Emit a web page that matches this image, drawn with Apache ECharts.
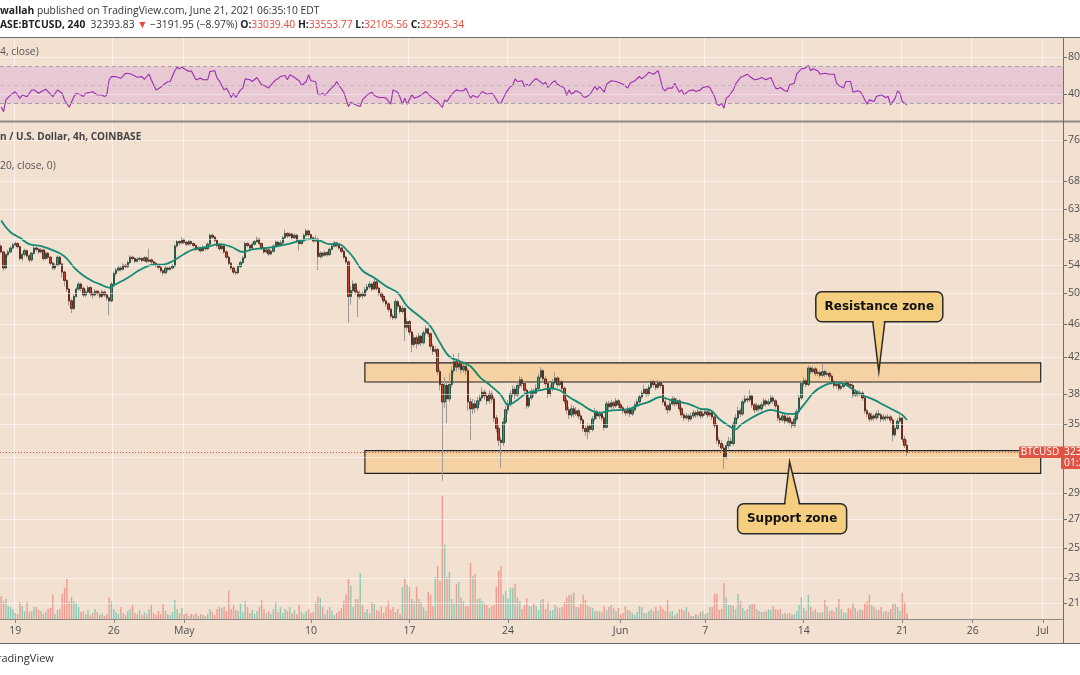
<!DOCTYPE html>
<html><head><meta charset="utf-8">
<script src="https://cdn.jsdelivr.net/npm/echarts/dist/echarts.min.js"></script>
<style>html,body{margin:0;padding:0;background:#fff;}#c{width:1080px;height:675px;}</style>
</head><body><div id="c"></div>
<script>
// ---------- data (prices in thousands of USD, 4h candles from 2021-04-18 00:00 UTC) ----------
const startTime = Date.UTC(2021, 3, 18, 0, 0);
const categoryCount = 453;
const firstOpen = 56.9;
const closes = [
56.0,53.6,55.6,56.0,56.6,57.1, 57.3,56.8,55.0,55.6,56.2,55.4, 54.8,55.8,56.6,56.4,56.0,56.3,
55.0,55.8,55.2,54.3,53.6,54.0, 55.2,54.2,53.0,51.8,50.6,49.0, 48.0,49.6,50.6,51.3,50.7,49.8,
50.2,50.8,50.0,49.8,50.3,50.0, 49.6,50.2,49.8,49.4,49.0,51.3, 52.8,53.3,53.6,53.4,54.0,53.8,
54.4,55.2,55.0,54.6,54.9,55.0, 54.7,55.1,54.6,54.8,54.5,54.3, 54.0,53.7,53.2,52.9,53.6,53.4,
53.6,53.9,56.9,57.6,57.4,57.9, 57.5,57.2,57.6,57.3,57.0,56.4, 56.6,56.2,56.7,56.5,57.2,58.6,
58.3,57.8,57.0,56.5,56.9,56.0, 55.2,54.3,53.6,53.0,52.9,53.8, 54.4,55.1,57.3,57.0,56.6,57.2,
57.6,58.0,57.3,56.6,56.0,56.3, 55.7,56.1,56.9,57.5,57.1,57.4, 58.2,58.9,58.5,58.8,58.2,58.6,
57.8,57.3,57.7,58.6,59.3,58.7, 58.2,57.7,58.0,55.3,55.8,55.5, 55.9,55.6,56.4,56.9,57.4,57.0,
56.6,56.1,55.2,54.5,49.6,50.4, 51.3,50.2,49.6,50.0,49.7,50.5, 50.9,51.3,50.6,51.6,50.7,50.0,
49.6,49.0,48.6,47.9,47.0,46.8, 48.9,48.3,47.6,48.0,45.6,46.3, 45.0,43.5,44.3,43.6,44.5,43.7,
44.9,45.4,44.8,43.3,42.7,42.9, 40.4,39.0,37.2,38.9,37.5,39.0, 40.5,41.5,40.9,41.3,40.6,41.0,
40.5,37.2,36.5,37.0,36.6,37.3, 37.6,38.2,37.8,37.3,38.0,37.5, 35.6,34.6,33.5,33.3,35.2,36.4,
37.0,38.0,38.5,37.9,38.9,39.5, 39.1,38.4,36.8,37.6,38.3,38.1, 38.6,39.8,40.5,39.6,39.1,38.0,
38.6,39.2,39.7,39.0,39.3,38.6, 37.3,36.4,35.9,36.5,36.0,36.3, 35.8,35.4,34.6,34.3,34.8,34.5,
35.5,36.2,35.8,36.0,35.6,34.7, 37.0,36.7,37.1,36.8,37.3,36.9, 36.6,36.3,36.1,36.5,36.0,36.4,
36.9,37.2,37.7,38.1,38.5,38.0, 38.7,39.3,39.0,38.7,39.2,38.9, 37.2,36.8,36.4,37.0,37.5,37.0,
37.3,36.5,35.9,35.6,35.8,35.5, 35.8,36.1,35.9,36.2,35.8,36.0, 36.2,35.9,36.1,35.7,34.9,33.5,
33.2,32.8,32.0,33.0,33.4,33.2, 35.0,35.6,36.3,36.0,37.2,37.5, 37.4,37.8,36.9,36.4,36.8,36.5,
36.9,37.3,37.0,37.2,37.6,37.3, 36.8,35.6,35.4,35.8,35.3,35.6, 35.2,34.9,35.5,36.2,37.6,39.1,
39.4,39.0,40.8,40.4,40.7,40.2, 40.3,40.0,40.4,40.1,40.2,39.9, 39.3,38.9,39.0,38.6,38.8,39.1,
39.2,39.0,38.9,37.9,38.2,38.0, 38.1,37.6,36.3,36.0,35.5,35.8, 35.6,36.0,35.9,35.5,35.7,35.6,
35.7,35.4,34.0,34.6,35.3,35.59, 33.6,33.04,32.40];
const highs = [
57.2,56.2,55.8,56.3,56.9,57.4, 57.6,57.5,57.0,55.9,56.5,56.4, 55.6,56.0,56.9,56.8,56.6,56.6,
56.5,56.1,56.0,55.4,54.5,54.3, 55.5,55.4,54.4,53.2,52.0,50.8, 49.3,49.9,50.9,51.6,51.5,51.0,
50.6,51.1,51.0,50.3,50.6,50.5, 50.2,50.5,50.4,50.0,49.6,51.6, 53.1,53.6,54.0,53.9,54.3,54.2,
54.7,55.5,55.4,55.2,55.2,55.3, 55.2,55.4,55.3,56.5,55.0,54.7, 54.5,54.2,53.9,53.4,53.9,53.8,
53.9,54.2,57.2,57.9,57.8,58.3, 58.1,57.7,57.9,57.8,57.5,57.2, 56.9,56.8,57.0,56.9,57.5,58.9,
58.9,58.5,58.0,57.2,57.3,57.1, 56.2,55.4,54.5,53.8,53.3,54.1, 54.7,55.4,57.6,57.5,57.2,57.5,
57.9,58.4,58.2,57.5,56.8,56.6, 56.5,56.4,57.2,57.8,57.7,57.8, 58.5,59.5,59.1,59.1,59.0,58.9,
58.8,58.0,58.0,58.9,59.7,59.5, 58.9,58.4,58.6,58.2,56.1,56.0, 56.2,56.1,56.7,57.2,57.7,57.6,
57.2,56.8,56.3,55.4,54.7,51.0, 51.8,51.5,50.5,50.4,50.3,50.9, 51.3,51.7,51.5,52.2,51.8,50.9,
50.2,49.8,49.2,48.8,48.1,47.3, 49.3,49.1,48.5,48.4,48.2,46.7, 46.5,45.2,44.7,44.6,44.9,44.7,
45.2,45.8,45.6,45.0,43.6,43.3, 43.1,40.7,39.3,39.8,39.3,40.2, 41.0,42.4,41.9,42.5,41.6,41.5,
41.4,40.8,37.6,37.5,37.4,37.7, 38.0,38.7,38.5,38.1,38.4,38.3, 37.8,35.9,34.9,33.8,35.6,36.8,
37.4,38.4,38.9,38.8,39.3,39.9, 39.8,39.4,38.6,38.0,38.6,38.6, 39.0,40.2,40.9,40.7,39.9,39.3,
39.0,39.6,40.3,39.9,39.7,39.5, 38.8,37.6,36.7,36.9,36.8,36.7, 36.5,36.0,35.6,34.9,35.1,35.0,
35.8,36.6,36.4,36.3,36.2,35.8, 37.3,37.3,37.4,37.3,37.6,37.5, 37.1,36.8,36.5,36.8,36.7,36.7,
37.2,37.5,38.0,38.4,39.0,38.7, 39.0,39.5,39.5,39.2,39.5,39.4, 39.1,37.5,37.0,37.3,37.8,37.7,
37.6,37.5,36.7,36.1,36.1,36.0, 36.1,36.4,36.3,36.5,36.4,36.3, 36.5,36.4,36.4,36.3,35.9,35.1,
33.8,33.5,33.1,33.3,33.8,33.7, 35.3,36.0,36.7,36.6,37.5,37.9, 37.8,38.4,38.0,37.1,37.1,37.0,
37.2,37.6,37.5,37.5,37.9,37.8, 37.5,37.0,35.9,36.1,36.0,35.9, 35.8,35.4,35.8,36.5,37.9,39.4,
39.8,39.6,41.1,41.0,41.0,40.9, 40.6,40.5,41.3,40.6,40.5,40.4, 40.1,39.5,39.3,39.2,39.1,39.4,
39.5,39.4,39.2,39.1,38.5,38.4, 38.4,38.3,37.8,36.5,36.2,36.1, 36.0,36.3,36.4,36.1,36.0,35.9,
36.0,35.9,35.6,34.9,35.6,35.9, 35.7,33.9,33.55];
const lows = [
55.8,53.2,53.4,55.3,55.8,56.4, 56.8,56.5,54.7,54.6,55.3,55.1, 54.4,54.6,55.6,56.0,55.7,55.8,
54.7,54.8,54.9,54.0,53.3,53.3, 53.8,53.9,52.2,51.0,50.2,48.4, 47.4,47.8,49.4,50.4,50.3,49.5,
49.5,50.0,49.6,49.3,49.6,49.7, 49.3,49.4,49.5,49.0,47.1,48.8, 51.0,52.5,53.0,53.1,53.2,53.5,
53.6,54.2,54.7,54.3,54.4,54.6, 54.4,54.5,54.3,54.4,54.2,54.0, 53.7,53.4,52.9,52.5,52.7,53.1,
53.2,53.4,53.7,56.7,57.0,57.2, 57.2,56.9,57.0,57.0,56.7,56.1, 56.1,55.9,56.0,56.2,56.3,57.0,
58.0,57.5,56.7,56.2,56.3,55.7, 54.9,54.0,53.3,52.7,52.6,52.7, 53.6,54.2,54.9,56.7,56.3,56.4,
57.0,57.4,57.0,56.3,55.7,55.8, 55.4,55.5,55.9,56.7,56.8,56.9, 57.2,58.0,58.2,58.3,57.9,58.0,
57.5,56.2,57.1,57.5,58.4,58.4, 57.9,57.4,57.5,53.3,55.0,55.1, 55.3,55.3,55.4,56.2,56.7,56.7,
56.3,55.8,54.9,54.2,46.2,48.5, 50.0,49.8,46.9,49.2,49.3,49.5, 50.2,50.6,50.3,50.4,50.4,49.7,
49.2,48.7,48.2,47.5,46.7,46.5, 46.6,47.9,47.3,47.3,43.9,45.2, 44.6,42.6,43.2,43.0,43.4,43.3,
43.5,44.6,44.4,42.9,42.3,42.4, 40.0,38.4,30.0,36.6,35.1,37.2, 38.7,40.2,40.4,40.6,40.2,40.3,
40.0,36.3,33.5,36.0,36.1,36.3, 36.9,37.3,37.4,36.9,37.0,37.1, 35.2,34.2,33.0,31.1,33.0,35.0,
36.0,36.7,37.7,37.5,37.7,38.6, 38.7,38.0,36.5,36.6,37.4,37.7, 37.9,38.4,39.6,39.2,38.7,37.6,
37.7,38.3,39.0,38.7,38.8,38.3, 37.0,36.0,35.5,35.6,35.7,35.8, 35.5,35.0,34.3,33.9,33.6,34.1,
34.3,35.3,35.5,35.5,35.3,34.4, 34.6,36.4,36.5,36.5,36.6,36.6, 36.3,36.0,35.8,35.9,35.7,35.8,
36.2,36.7,37.0,37.5,37.9,37.7, 37.8,38.5,38.7,38.4,38.5,38.6, 36.9,36.4,36.0,36.2,36.8,36.7,
36.8,36.2,35.6,35.3,35.4,35.2, 35.3,35.6,35.6,35.7,35.5,35.6, 35.8,35.6,35.7,35.4,34.6,33.2,
32.9,32.4,31.0,31.8,32.7,32.9, 33.0,34.7,35.4,35.7,35.8,37.0, 37.1,37.2,36.6,36.1,36.2,36.2,
36.3,36.7,36.7,36.8,37.0,37.0, 36.5,35.3,35.1,35.2,35.0,35.1, 34.9,34.6,34.7,35.3,36.0,37.4,
38.8,38.7,38.8,40.1,40.2,39.9, 39.9,39.7,39.8,39.8,39.9,39.5, 39.0,38.6,38.6,38.3,38.4,38.6,
38.9,38.7,38.6,37.6,37.7,37.7, 37.8,37.3,36.0,35.7,35.2,35.3, 35.3,35.4,35.6,35.2,35.3,35.3,
35.4,35.1,33.4,33.8,34.4,35.1, 33.3,32.8,32.11];
// volume, thousand BTC per 4h candle
const volumes = [
6.9,5.4,6.0,3.9,3.6,3.0, 1.8,1.5,5.1,3.9,2.4,5.1, 2.1,2.4,3.6,3.6,2.7,2.4, 1.5,2.1,3.0,3.3,7.3,1.5,
2.7,3.0,7.6,9.4,12.1,5.4, 6.6,5.4,4.8,3.6,2.1,2.4, 1.5,2.7,1.2,1.8,3.0,2.1, 1.2,1.8,0.9,1.5,6.6,5.4,
3.0,2.1,1.5,3.6,1.8,1.2, 2.4,3.0,4.2,1.8,1.5,2.7, 1.2,2.1,1.5,3.0,4.2,1.8, 1.2,2.4,1.5,4.5,2.4,1.5,
1.2,2.1,5.7,3.0,1.8,3.3, 1.5,1.8,0.9,1.5,1.2,1.8, 0.9,1.5,1.2,0.9,1.5,3.0, 2.1,1.2,3.0,3.6,3.3,3.6,
2.4,8.5,3.0,4.2,2.7,2.4, 4.5,2.1,5.4,3.6,1.8,2.7, 1.5,2.4,3.6,5.7,3.0,1.8, 2.4,1.5,3.0,5.1,2.1,3.6,
1.8,3.0,2.4,3.6,1.8,2.7, 1.5,4.2,2.1,1.5,2.4,3.0, 1.8,2.1,5.1,6.9,6.3,3.6, 1.5,2.7,3.6,2.4,1.2,1.8,
2.4,3.3,5.4,7.3,12.1,10.0, 3.6,6.0,6.0,13.9,4.2,2.1, 3.0,1.8,5.1,4.5,2.7,2.4, 3.9,1.8,3.6,5.4,2.7,3.6,
2.1,3.0,1.5,9.7,12.1,10.3, 9.7,6.0,5.4,9.7,6.0,5.1, 3.6,2.4,8.2,7.3,3.9,12.7, 16.0,11.5,37.2,22.4,12.7,14.2,
6.0,4.8,10.6,11.2,6.6,5.4, 3.9,3.9,16.9,13.0,13.6,6.0, 6.3,5.4,4.8,4.2,3.3,3.9, 4.2,9.7,14.5,16.0,7.3,8.5,
6.3,9.4,9.4,10.6,6.6,5.4, 3.0,4.2,6.3,3.9,3.9,4.8, 3.9,2.7,5.7,6.0,3.0,5.1, 2.4,2.7,4.2,3.6,3.3,3.6,
5.1,6.6,7.3,7.3,7.9,3.6, 3.6,4.5,7.3,5.7,3.9,3.6, 3.3,2.4,2.4,2.4,2.1,3.9, 2.7,3.6,4.2,3.3,2.4,3.3,
1.5,1.8,3.9,2.7,2.4,1.8, 1.2,2.1,3.9,3.6,1.8,1.8, 2.4,3.0,2.4,3.6,2.4,3.9, 3.0,2.4,5.7,2.1,2.4,1.2,
1.8,3.0,3.0,2.4,3.6,2.1, 0.9,0.9,1.5,1.2,2.1,2.4, 1.5,1.8,3.6,3.6,7.6,7.6, 2.7,3.0,10.9,6.6,4.2,4.2,
3.9,3.0,7.6,5.4,3.3,2.4, 3.0,4.2,4.5,4.5,3.0,2.4, 2.1,2.1,2.4,3.0,2.7,3.9, 3.0,2.7,3.0,1.5,1.8,1.5,
1.8,1.2,1.5,2.4,4.2,6.6, 3.3,2.4,7.3,3.6,2.4,3.0, 2.1,1.8,2.1,5.7,3.9,2.4, 2.7,2.1,3.6,6.0,3.0,2.1,
1.8,3.3,3.0,4.8,3.3,2.4, 3.0,2.7,4.8,5.4,7.3,4.2, 3.6,2.7,2.7,3.6,2.1,2.4, 2.1,3.0,4.5,4.8,3.6,2.4,
7.9,5.1,1.8];
// moving average (20, close): [candle index, price k$]
const maPoints = [[0,61.0],[2,59.9],[4,59.1],[6,58.6],[8,58.2],[12,57.2],[17,56.9],[21,56.4],[25,55.8],[28,55.0],
[31,53.7],[35,52.5],[39,51.7],[42,51.3],[46,50.8],[49,51.3],[54,52.2],[59,53.3],[65,54.1],[69,54.1],[73,54.6],
[78,55.7],[82,56.4],[88,56.8],[93,57.2],[98,56.8],[103,56.0],[107,56.4],[115,56.7],[122,57.2],[127,57.7],
[132,58.0],[136,57.7],[140,57.2],[144,57.2],[147,56.4],[150,55.2],[154,53.2],[159,52.2],[164,51.0],[169,50.1],
[173,48.3],[179,46.8],[183,45.7],[187,43.7],[191,42.1],[196,41.5],[200,41.0],[204,39.8],[208,39.0],[213,37.9],
[216,36.9],[220,37.4],[224,38.1],[230,38.4],[234,38.6],[238,38.4],[242,37.7],[247,37.0],[251,36.4],[255,36.1],
[259,36.3],[264,36.4],[268,36.5],[272,36.9],[276,37.2],[281,37.7],[285,37.4],[289,37.2],[294,36.9],[298,36.5],
[302,36.4],[306,35.5],[311,34.7],[313,34.5],[315,34.9],[319,35.5],[323,36.0],[328,36.4],[330,36.3],[335,36.0],
[338,36.0],[342,36.9],[346,38.1],[350,38.8],[355,39.2],[359,39.1],[363,38.5],[367,37.9],[372,37.4],[376,36.9],
[380,36.4],[384,35.9],[386,35.4]];
// RSI (14, close): [candle index, value]
const rsiPoints = [[0,26.2],[1,20.7],[2,33.5],[4,38.9],[6,42.5],[8,35.3],[9,38.9],[11,37.1],[13,44.4],[14,44.4],[16,40.8],
[17,42.5],[19,45.2],[20,42.5],[22,37.1],[24,44.4],[26,40.8],[27,33.5],[29,25.5],[31,37.1],[32,40.8],[34,38.9],[35,37.1],
[36,40.8],[39,42.5],[41,38.9],[43,38.9],[44,37.1],[45,38.9],[46,55.3],[47,58.9],[49,58.9],[51,57.1],[53,62.6],[55,62.0],
[57,59.7],[58,58.2],[60,58.9],[61,56.0],[63,61.8],[64,55.3],[66,44.4],[68,47.3],[69,49.8],[71,53.4],[72,53.6],[74,65.3],
[75,69.2],[76,67.5],[77,69.3],[78,67.5],[80,64.5],[81,65.3],[83,55.5],[85,57.3],[86,55.5],[88,55.5],[89,64.5],[91,65.3],
[92,57.3],[93,54.4],[95,44.5],[96,46.4],[97,42.0],[98,36.2],[99,40.9],[100,36.2],[102,44.5],[103,46.4],[104,56.5],
[106,55.5],[107,53.6],[109,58.0],[111,50.0],[112,49.3],[114,46.4],[115,50.0],[117,55.5],[118,56.5],[119,59.1],[121,60.2],
[122,55.5],[123,60.9],[125,58.0],[127,54.4],[128,49.3],[130,53.6],[131,60.9],[132,54.4],[134,53.6],[135,39.8],[136,39.1],
[137,40.9],[138,38.4],[140,44.5],[142,49.3],[143,53.6],[144,49.3],[146,42.0],[148,26.4],[149,31.1],[151,28.2],[153,26.4],
[154,33.6],[156,39.1],[158,42.0],[159,38.4],[161,36.2],[163,36.2],[164,35.5],[166,28.9],[167,44.5],[169,42.0],[170,36.2],
[171,28.9],[172,35.5],[173,28.9],[175,39.1],[176,35.5],[178,37.3],[180,40.9],[181,42.7],[183,37.3],[184,35.5],[186,31.8],
[188,25.3],[189,33.6],[190,31.8],[192,39.8],[194,44.5],[195,43.5],[197,43.5],[198,46.4],[200,35.5],[201,38.4],[203,36.2],
[205,42.7],[207,39.8],[209,40.9],[210,38.4],[212,30.0],[213,30.0],[215,40.9],[217,48.2],[218,49.3],[219,56.5],[220,53.6],
[222,54.4],[223,48.2],[224,50.7],[225,48.8],[227,55.0],[228,56.9],[230,53.0],[231,50.7],[232,52.9],[233,47.1],[235,52.9],
[236,54.4],[237,50.7],[238,49.3],[240,46.4],[241,38.4],[242,44.5],[243,39.8],[245,43.5],[247,40.9],[248,37.3],[249,36.2],
[251,39.8],[253,48.2],[254,44.5],[255,48.2],[257,42.0],[258,50.7],[260,54.4],[262,53.6],[264,51.8],[265,50.7],[267,46.4],
[268,51.8],[270,54.4],[272,59.1],[273,56.5],[275,60.9],[276,63.8],[278,61.6],[280,65.3],[282,45.6],[283,43.5],[284,46.4],
[286,46.4],[287,51.8],[289,42.0],[290,44.5],[291,39.1],[293,43.5],[295,44.5],[296,42.7],[298,44.5],[299,47.1],[301,48.2],
[302,47.1],[304,37.3],[305,28.9],[306,27.5],[307,30.0],[308,24.5],[309,35.5],[310,37.3],[312,44.5],[313,50.7],[315,58.0],
[316,59.1],[318,61.6],[319,59.1],[321,55.5],[323,56.5],[324,58.0],[326,55.5],[328,58.0],[330,46.4],[331,45.6],[332,47.1],
[334,43.5],[335,42.7],[336,50.0],[338,51.8],[339,61.6],[341,67.5],[342,67.5],[343,68.9],[344,71.1],[345,65.3],[346,67.5],
[348,65.3],[349,61.6],[351,62.7],[353,61.6],[355,61.6],[356,51.8],[357,49.3],[359,46.4],[360,53.6],[362,53.6],[363,42.0],
[365,43.5],[366,42.7],[367,39.1],[369,28.9],[370,33.6],[372,31.8],[373,37.3],[375,39.1],[377,36.2],[378,37.3],[379,28.2],
[381,35.5],[382,43.5],[383,40.9],[384,31.8],[386,28.2]];
const priceTicks = [76, 68, 63, 58, 54, 50, 46, 42, 38, 35, 32, 29, 27, 25, 23, 21.5];
const rsiTicks = [80, 40];
const rsiBand = [30, 70];
const dateTicks = ['04-19','04-26','05-01','05-10','05-17','05-24','06-01','06-07','06-14','06-21','06-26','07-01'];
const dateTickLabels = ['19','26','May','10','17','24','Jun','7','14','21','26','Jul'];
const resistanceZone = [39.27, 41.37];
const supportZone = [30.60, 32.57];
const zoneRange = [155, 443];
const lastPrice = 32.39534;
const callouts = [
  {text: 'Resistance zone', index: 374, price: 40.38, below: false},
  {text: 'Support zone', index: 336, price: 31.59, below: true}
];

// ---------- build ----------
const pad = n => (n < 10 ? '0' : '') + n;
const categories = [];
for (let i = 0; i < categoryCount; i++) {
  const d = new Date(startTime + i * 4 * 3600 * 1000);
  categories.push(pad(d.getUTCMonth() + 1) + '-' + pad(d.getUTCDate()) + ' ' + pad(d.getUTCHours()));
}
const tickMap = {};
dateTicks.forEach((d, k) => { tickMap[d + ' 00'] = dateTickLabels[k]; });
const isTick = (idx, val) => tickMap[val] !== undefined;

const ohlc = closes.map((c, i) => [i ? closes[i - 1] : firstOpen, c, lows[i], highs[i]]);
const bodies = ohlc.map(([o, c]) => [o, c, Math.min(o, c), Math.max(o, c)]);
const volData = volumes.map((v, i) => ({value: v, itemStyle: {color: ohlc[i][1] >= ohlc[i][0] ? '#8cc9b4' : '#f09a90'}}));

const FONT = 'Open Sans';
const bg = '#f2e0d0';
const gridLine = 'rgba(255,255,255,0.55)';

const chart = echarts.init(document.getElementById('c'), null, {renderer: 'canvas'});
const xCommon = {
  type: 'category', data: categories, boundaryGap: true,
  axisLine: {show: false}, axisTick: {show: false}, axisLabel: {show: false},
  splitLine: {show: true, interval: isTick, lineStyle: {color: gridLine, width: 1}}
};
const option = {
  backgroundColor: '#ffffff',
  animation: false,
  grid: [
    {left: 0, right: 17, top: 37, height: 84, outerBoundsMode: 'none', containLabel: false},
    {left: 0, right: 17, top: 122, height: 497, outerBoundsMode: 'none', containLabel: false}
  ],
  xAxis: [
    Object.assign({gridIndex: 0}, xCommon),
    Object.assign({}, xCommon, {
      gridIndex: 1,
      axisLine: {show: true, lineStyle: {color: '#8c8884', width: 1}},
      axisTick: {show: true, interval: isTick, alignWithLabel: true, length: 4, lineStyle: {color: '#8c8884'}},
      axisLabel: {show: true, interval: isTick, formatter: v => tickMap[v] || '', margin: 7,
        color: '#4f4f4f', fontSize: 10.5, fontFamily: FONT}
    })
  ],
  yAxis: [
    {gridIndex: 0, type: 'value', min: 10.6, max: 102.1, position: 'right', axisLine: {show: false},
      axisTick: {show: false}, axisLabel: {show: false}, splitLine: {show: false}},
    {gridIndex: 1, type: 'log', logBase: 10, min: 20.57, max: 79.83, position: 'right', axisLine: {show: false},
      axisTick: {show: false}, axisLabel: {show: false}, splitLine: {show: false}},
    {gridIndex: 1, type: 'value', min: 0, max: 150, show: false, splitLine: {show: false}}
  ],
  series: [
    {
      name: 'volume', type: 'bar', xAxisIndex: 1, yAxisIndex: 2, data: volData, barWidth: 1.4, z: 1, silent: true
    },
    {
      name: 'wicks', type: 'candlestick', xAxisIndex: 1, yAxisIndex: 1, data: ohlc, barWidth: 1.9, z: 2, silent: true,
      itemStyle: {color: '#9d9892', color0: '#9d9892', borderColor: '#9d9892', borderColor0: '#9d9892', borderWidth: 1},
      markLine: {
        silent: true, symbol: ['none', 'none'], animation: false,
        lineStyle: {color: gridLine, type: 'solid', width: 1},
        label: {show: true, position: 'end', distance: 5, color: '#4f4f4f', fontSize: 10.5, fontFamily: FONT,
          formatter: p => (p.value * 1000).toFixed(2)},
        emphasis: {disabled: true},
        data: priceTicks.map(v => ({yAxis: v}))
      },
      markArea: {
        silent: true,
        itemStyle: {color: '#f5d1a3', borderColor: '#222222', borderWidth: 1.2},
        data: [
          [{xAxis: categories[zoneRange[0]], yAxis: resistanceZone[1]}, {xAxis: categories[zoneRange[1]], yAxis: resistanceZone[0]}],
          [{xAxis: categories[zoneRange[0]], yAxis: supportZone[1]}, {xAxis: categories[zoneRange[1]], yAxis: supportZone[0]}]
        ]
      }
    },
    {
      name: 'BTCUSD', type: 'candlestick', xAxisIndex: 1, yAxisIndex: 1, data: bodies, barWidth: 1.9, z: 3, silent: true,
      itemStyle: {color: '#3d9572', color0: '#c4432f', borderColor: '#1f4436', borderColor0: '#551a12', borderWidth: 0.8},
      markLine: {
        silent: true, symbol: ['none', 'none'], animation: false,
        lineStyle: {color: '#e8553f', type: [1, 2], width: 1},
        label: {show: false},
        data: [{yAxis: lastPrice}]
      }
    },
    {
      name: 'MA', type: 'line', xAxisIndex: 1, yAxisIndex: 1, data: maPoints, smooth: 0.35, showSymbol: false,
      z: 4, silent: true, lineStyle: {color: '#138a72', width: 1.8}
    },
    {
      name: 'RSI', type: 'line', xAxisIndex: 0, yAxisIndex: 0, data: rsiPoints, showSymbol: false, z: 4, silent: true,
      lineStyle: {color: '#9a2eb0', width: 1.1},
      markArea: {silent: true, itemStyle: {color: '#e8c9d3'}, data: [[{yAxis: rsiBand[0]}, {yAxis: rsiBand[1]}]]},
      markLine: {
        silent: true, symbol: ['none', 'none'], animation: false,
        data: [
          {yAxis: rsiTicks[0], lineStyle: {color: gridLine, type: 'solid', width: 1},
            label: {show: true, position: 'end', distance: 5, color: '#4f4f4f', fontSize: 10.5, fontFamily: FONT, formatter: '{c}'}},
          {yAxis: rsiTicks[1], lineStyle: {color: 'rgba(255,255,255,0.4)', type: 'solid', width: 1},
            label: {show: true, position: 'end', distance: 5, color: '#4f4f4f', fontSize: 10.5, fontFamily: FONT, formatter: '{c}'}},
          {yAxis: rsiBand[1], lineStyle: {color: '#a8a0a6', type: [4, 3], width: 1}, label: {show: false}},
          {yAxis: 50, lineStyle: {color: '#c4b5bd', type: [4, 3], width: 1}, label: {show: false}},
          {yAxis: rsiBand[0], lineStyle: {color: '#a8a0a6', type: [4, 3], width: 1}, label: {show: false}}
        ]
      }
    }
  ]
};
chart.setOption(option);

// ---------- annotations anchored through the chart's own scales ----------
const g = [];
g.push({type: 'rect', z: -100, silent: true, shape: {x: 0, y: 37, width: 1080, height: 606}, style: {fill: bg}});
g.push({type: 'line', z: 50, silent: true, shape: {x1: 0, y1: 37.5, x2: 1080, y2: 37.5}, style: {stroke: '#6e6e6e', lineWidth: 1}});
g.push({type: 'line', z: 50, silent: true, shape: {x1: 0, y1: 121.5, x2: 1080, y2: 121.5}, style: {stroke: '#8e8a86', lineWidth: 2}});
g.push({type: 'line', z: 50, silent: true, shape: {x1: 1063.5, y1: 37, x2: 1063.5, y2: 643}, style: {stroke: '#6e6e6e', lineWidth: 1}});
g.push({type: 'line', z: 50, silent: true, shape: {x1: 0, y1: 643.5, x2: 1080, y2: 643.5}, style: {stroke: '#6a6a6a', lineWidth: 1}});
priceTicks.forEach(v => {
  const y = chart.convertToPixel({yAxisIndex: 1}, v);
  g.push({type: 'line', z: 50, silent: true, shape: {x1: 1063, y1: Math.round(y) + 0.5, x2: 1067, y2: Math.round(y) + 0.5}, style: {stroke: '#6e6e6e', lineWidth: 1}});
});
rsiTicks.forEach(v => {
  const y = chart.convertToPixel({yAxisIndex: 0}, v);
  g.push({type: 'line', z: 50, silent: true, shape: {x1: 1063, y1: Math.round(y) + 0.5, x2: 1067, y2: Math.round(y) + 0.5}, style: {stroke: '#6e6e6e', lineWidth: 1}});
});

const txt = (x, y, text, extra, z) => ({type: 'text', z: z || 60, silent: true,
  style: Object.assign({x: x, y: y, text: text, fontFamily: FONT, fontSize: 10.3, fill: '#333', verticalAlign: 'middle', align: 'left'}, extra || {})});
g.push(txt(0, 11, '{b|wallah} published on TradingView.com, June 21, 2021 06:35:10 EDT', {
  rich: {b: {fontFamily: FONT, fontSize: 10.3, fontWeight: 'bold', fill: '#222'}}}));
g.push(txt(0, 25, '{b|ASE:BTCUSD, 240}  32393.83 {r|▼} −3191.95 (−8.97%) {b|O:}{r|33039.40} {b|H:}{r|33553.77} {b|L:}{r|32105.56} {b|C:}{r|32395.34}', {
  rich: {b: {fontFamily: FONT, fontSize: 10.3, fontWeight: 'bold', fill: '#222'},
         r: {fontFamily: FONT, fontSize: 10.3, fill: '#e8483a'}}}));
g.push(txt(0, 52, '4, close)', {fill: '#555'}));
g.push(txt(0, 137, 'n / U.S. Dollar, 4h, COINBASE', {fontWeight: 'bold', fill: '#444', fontSize: 10}));
g.push(txt(0, 166, '20, close, 0)', {fill: '#555'}));
g.push(txt(-3, 659, 'radingView', {fontSize: 11, fill: '#333'}));

// last price tags
const ly = chart.convertToPixel({yAxisIndex: 1}, lastPrice);
g.push({type: 'rect', z: 70, silent: true, shape: {x: 1019, y: ly - 6, width: 42, height: 11.5, r: 1}, style: {fill: '#df5443'}});
g.push(txt(1040, ly, 'BTCUSD', {align: 'center', fill: '#ffffff', fontSize: 10}, 75));
g.push({type: 'rect', z: 70, silent: true, shape: {x: 1061, y: ly - 6, width: 25, height: 22.5}, style: {fill: '#df5443'}});
g.push(txt(1064, ly, (lastPrice * 1000).toFixed(2), {fill: '#ffffff', fontSize: 10.3}, 75));
g.push(txt(1064, ly + 11, '01:24:50', {fill: '#ffffff', fontSize: 10.3}, 75));

// callouts
callouts.forEach(c => {
  const [tx, ty] = chart.convertToPixel({xAxisIndex: 1, yAxisIndex: 1}, [c.index, c.price]);
  let L, T, W, H = 30, b0, b1, edge;
  if (!c.below) { W = 127; L = tx - 63; T = ty - 80; b0 = tx - 6; b1 = tx + 6; edge = T + H; }
  else { W = 109; L = tx - 52; T = ty + 42; b0 = tx - 5; b1 = tx + 10; edge = T; }
  const inward = c.below ? 2 : -2;
  g.push({type: 'rect', z: 80, silent: true, shape: {x: L, y: T, width: W, height: H, r: 6},
    style: {fill: '#f5cf7f', stroke: '#2a2a2a', lineWidth: 1.5}});
  g.push({type: 'polygon', z: 81, silent: true, shape: {points: [[b0 + 0.8, edge + inward], [tx, ty], [b1 - 0.8, edge + inward]]},
    style: {fill: '#f5cf7f'}});
  g.push({type: 'polyline', z: 82, silent: true, shape: {points: [[b0, edge], [tx, ty], [b1, edge]]},
    style: {stroke: '#2a2a2a', lineWidth: 1.5, fill: null}});
  g.push(txt(L + W / 2, T + H / 2, c.text, {align: 'center', fontFamily: 'DejaVu Sans', fontWeight: 'bold', fontSize: 12, fill: '#111'}, 83));
});
chart.setOption({graphic: {elements: g}});
</script>
</body></html>
